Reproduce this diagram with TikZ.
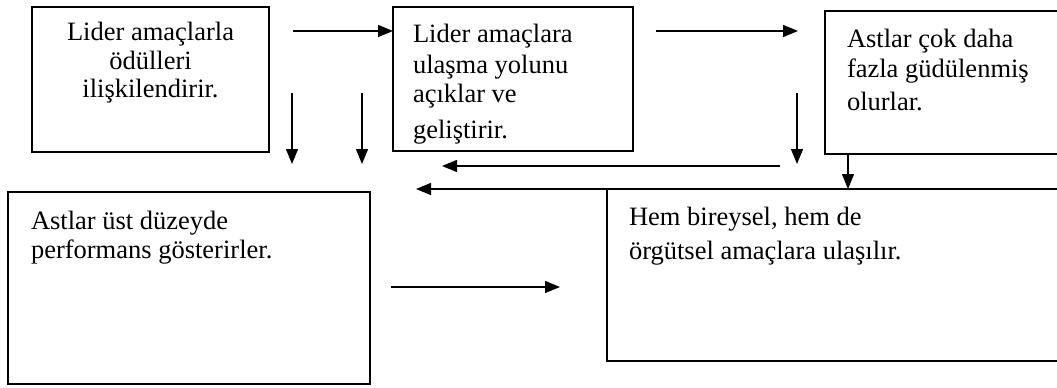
\documentclass[tikz,border=0pt]{standalone}
\usepackage{fontspec}
\setmainfont{Liberation Serif}
\usetikzlibrary{arrows.meta}
\tikzset{
  box/.style={draw, line width=1.6pt, inner sep=0pt, outer sep=0pt, rectangle},
  txt/.style={inner sep=0pt, outer sep=0pt, font=\fontsize{26.5}{29}\selectfont},
  arr/.style={line width=1.4pt, -{Triangle[length=15pt,width=12pt]}},
}
\newcommand{\fl}{\rule{0pt}{22pt}}
\begin{document}
\begin{tikzpicture}[x=1pt,y=-1pt]
\useasboundingbox (0,0) rectangle (1057,388);
% boxes
\node[box, minimum width=237pt, minimum height=145pt] (b1) at (150.5,79.5) {};
\node[box, minimum width=240pt, minimum height=144pt] (b2) at (513,79) {};
\node[box, minimum width=240pt, minimum height=143pt] (b3) at (945,82.5) {};
\node[box, minimum width=362pt, minimum height=192pt] (b4) at (189,288) {};
\node[box, minimum width=463pt, minimum height=172pt] (b5) at (838.5,275) {};
% texts
\node[txt, anchor=north, align=center] (t1) at (150.5,18)
  {\fl Lider amaçlarla\\ödülleri\\[-1pt]ilişkilendirir.};
\node[txt, anchor=north west, align=left] (t2) at (413,20)
  {\fl Lider amaçlara\\[2pt]ulaşma yolunu\\açıklar ve\\[7pt]geliştirir.};
\node[txt, anchor=north west, align=left] (t3) at (847,25)
  {\fl Astlar çok daha\\[1pt]fazla güdülenmiş\\[4pt]olurlar.};
\node[txt, anchor=north west, align=left] (t4) at (31,207)
  {\fl Astlar üst düzeyde\\performans gösterirler.};
\node[txt, anchor=north west, align=left] (t5) at (629,203)
  {\fl Hem bireysel, hem de\\[5pt]örgütsel amaçlara ulaşılır.};
% connector end points
\coordinate (a1s) at (293,31);
\coordinate (a2s) at (656,31);
\coordinate (a2e) at (798,31);
\coordinate (d1s) at (292,93);
\coordinate (d1e) at (292,164);
\coordinate (d2s) at (362,93);
\coordinate (d2e) at (362,164);
\coordinate (d3s) at (797,93);
\coordinate (d3e) at (797,164);
\coordinate (l1s) at (780,166);
\coordinate (l1e) at (442,166);
\coordinate (l2e) at (416,189);
\coordinate (h1s) at (391,287);
\coordinate (h1e) at (560,287);
% connectors
\draw[arr] (a1s) -- (b2.west |- a1s);
\draw[arr] (a2s) -- (a2e);
\draw[arr] (d1s) -- (d1e);
\draw[arr] (d2s) -- (d2e);
\draw[arr] (d3s) -- (d3e);
\draw[arr] (b3.south -| 848,0) -- (b5.north -| 848,0);
\draw[arr] (l1s) -- (l1e);
\draw[arr] (b5.north -| 848,0) -- (l2e);
\draw[arr] (h1s) -- (h1e);
\end{tikzpicture}
\end{document}
